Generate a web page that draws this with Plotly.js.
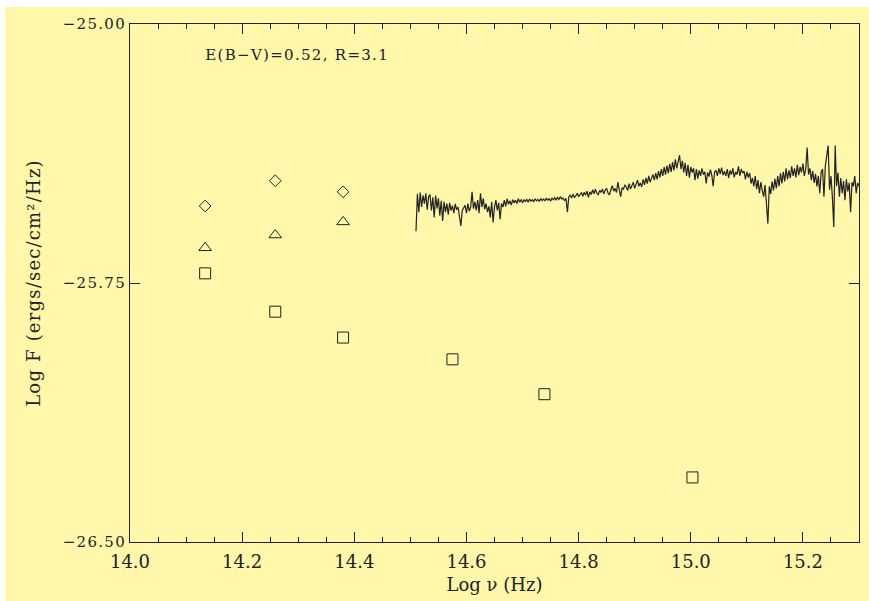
<!DOCTYPE html>
<html>
<head>
<meta charset="utf-8">
<script src="https://cdn.plot.ly/plotly-3.0.1.min.js"></script>
<style>
html,body{margin:0;padding:0;background:#ffffff;}
#chart{position:absolute;left:5px;top:7px;width:864px;height:594px;}
</style>
</head>
<body>
<div id="chart"></div>
<script>
// Photometric points (Log nu in Hz, Log F)
const diamondX = [14.134, 14.259, 14.380];
const diamondY = [-25.527, -25.454, -25.486];
const triangleX = [14.134, 14.259, 14.380];
const triangleY = [-25.648, -25.611, -25.573];
const squareX = [14.134, 14.259, 14.380, 14.575, 14.739, 15.003];
const squareY = [-25.722, -25.833, -25.908, -25.971, -26.072, -26.313];

// Spectrum (Log nu, Log F)
const specX = [
14.5100,14.5125,14.5150,14.5175,14.5200,14.5225,14.5250,14.5275,14.5300,14.5325,
14.5350,14.5375,14.5400,14.5425,14.5450,14.5475,14.5500,14.5525,14.5550,14.5575,
14.5600,14.5625,14.5650,14.5675,14.5700,14.5725,14.5750,14.5775,14.5800,14.5825,
14.5850,14.5875,14.5900,14.5925,14.5950,14.5975,14.6000,14.6025,14.6050,14.6075,
14.6100,14.6125,14.6150,14.6175,14.6200,14.6225,14.6250,14.6275,14.6300,14.6325,
14.6350,14.6375,14.6400,14.6425,14.6450,14.6475,14.6500,14.6525,14.6550,14.6575,
14.6600,14.6625,14.6650,14.6675,14.6700,14.6725,14.6750,14.6775,14.6800,14.6825,
14.6850,14.6875,14.6900,14.6925,14.6950,14.6975,14.7000,14.7025,14.7050,14.7075,
14.7100,14.7125,14.7150,14.7175,14.7200,14.7225,14.7250,14.7275,14.7300,14.7325,
14.7350,14.7375,14.7400,14.7425,14.7450,14.7475,14.7500,14.7525,14.7550,14.7575,
14.7600,14.7625,14.7650,14.7675,14.7700,14.7725,14.7750,14.7775,14.7800,14.7825,
14.7850,14.7875,14.7900,14.7925,14.7950,14.7975,14.8000,14.8025,14.8050,14.8075,
14.8100,14.8125,14.8150,14.8175,14.8200,14.8225,14.8250,14.8275,14.8300,14.8325,
14.8350,14.8375,14.8400,14.8425,14.8450,14.8475,14.8500,14.8525,14.8550,14.8575,
14.8600,14.8625,14.8650,14.8675,14.8700,14.8725,14.8750,14.8775,14.8800,14.8825,
14.8850,14.8875,14.8900,14.8925,14.8950,14.8975,14.9000,14.9025,14.9050,14.9075,
14.9100,14.9125,14.9150,14.9175,14.9200,14.9225,14.9250,14.9275,14.9300,14.9325,
14.9350,14.9375,14.9400,14.9425,14.9450,14.9475,14.9500,14.9525,14.9550,14.9575,
14.9600,14.9625,14.9650,14.9675,14.9700,14.9725,14.9750,14.9775,14.9800,14.9825,
14.9850,14.9875,14.9900,14.9925,14.9950,14.9975,15.0000,15.0025,15.0050,15.0075,
15.0100,15.0125,15.0150,15.0175,15.0200,15.0225,15.0250,15.0275,15.0300,15.0325,
15.0350,15.0375,15.0400,15.0425,15.0450,15.0475,15.0500,15.0525,15.0550,15.0575,
15.0600,15.0625,15.0650,15.0675,15.0700,15.0725,15.0750,15.0775,15.0800,15.0825,
15.0850,15.0875,15.0900,15.0925,15.0950,15.0975,15.1000,15.1025,15.1050,15.1075,
15.1100,15.1125,15.1150,15.1175,15.1200,15.1225,15.1250,15.1275,15.1300,15.1325,
15.1350,15.1375,15.1400,15.1425,15.1450,15.1475,15.1500,15.1525,15.1550,15.1575,
15.1600,15.1625,15.1650,15.1675,15.1700,15.1725,15.1750,15.1775,15.1800,15.1825,
15.1850,15.1875,15.1900,15.1925,15.1950,15.1975,15.2000,15.2025,15.2050,15.2075,
15.2100,15.2125,15.2150,15.2175,15.2200,15.2225,15.2250,15.2275,15.2300,15.2325,
15.2350,15.2375,15.2400,15.2425,15.2450,15.2475,15.2500,15.2525,15.2550,15.2575,
15.2600,15.2625,15.2650,15.2675,15.2700,15.2725,15.2750,15.2775,15.2800,15.2825,
15.2850,15.2875,15.2900,15.2925,15.2950,15.2975,15.3000
];
const specY = [
-25.600,-25.492,-25.545,-25.488,-25.530,-25.496,-25.520,-25.490,-25.538,-25.500,
-25.494,-25.540,-25.502,-25.560,-25.497,-25.534,-25.505,-25.555,-25.512,-25.570,
-25.515,-25.545,-25.520,-25.552,-25.518,-25.540,-25.526,-25.548,-25.521,-25.538,
-25.530,-25.562,-25.585,-25.540,-25.532,-25.525,-25.548,-25.520,-25.542,-25.530,
-25.486,-25.535,-25.515,-25.540,-25.510,-25.548,-25.490,-25.530,-25.505,-25.536,
-25.520,-25.545,-25.528,-25.560,-25.515,-25.575,-25.530,-25.510,-25.540,-25.518,
-25.565,-25.520,-25.530,-25.510,-25.528,-25.506,-25.522,-25.512,-25.524,-25.509,
-25.518,-25.510,-25.520,-25.506,-25.516,-25.508,-25.518,-25.509,-25.514,-25.508,
-25.516,-25.507,-25.513,-25.509,-25.515,-25.506,-25.512,-25.508,-25.514,-25.505,
-25.511,-25.507,-25.512,-25.505,-25.510,-25.506,-25.513,-25.504,-25.509,-25.503,
-25.510,-25.502,-25.508,-25.500,-25.507,-25.504,-25.512,-25.505,-25.545,-25.500,
-25.496,-25.504,-25.492,-25.502,-25.498,-25.490,-25.500,-25.494,-25.488,-25.499,
-25.487,-25.496,-25.484,-25.502,-25.486,-25.494,-25.480,-25.492,-25.478,-25.490,
-25.494,-25.482,-25.488,-25.478,-25.492,-25.481,-25.476,-25.490,-25.495,-25.480,
-25.468,-25.484,-25.476,-25.488,-25.458,-25.480,-25.500,-25.474,-25.478,-25.466,
-25.472,-25.482,-25.462,-25.478,-25.470,-25.458,-25.476,-25.465,-25.452,-25.470,
-25.460,-25.472,-25.450,-25.466,-25.446,-25.462,-25.440,-25.458,-25.448,-25.436,
-25.452,-25.432,-25.450,-25.426,-25.444,-25.420,-25.440,-25.414,-25.436,-25.410,
-25.432,-25.405,-25.428,-25.400,-25.424,-25.392,-25.418,-25.395,-25.380,-25.420,
-25.396,-25.430,-25.402,-25.440,-25.408,-25.445,-25.414,-25.430,-25.418,-25.452,
-25.420,-25.448,-25.424,-25.440,-25.418,-25.436,-25.428,-25.462,-25.430,-25.442,
-25.422,-25.438,-25.470,-25.428,-25.424,-25.440,-25.418,-25.434,-25.416,-25.438,
-25.426,-25.440,-25.420,-25.446,-25.424,-25.436,-25.418,-25.444,-25.428,-25.436,
-25.412,-25.440,-25.420,-25.432,-25.426,-25.450,-25.428,-25.444,-25.432,-25.462,
-25.446,-25.470,-25.440,-25.478,-25.452,-25.490,-25.458,-25.482,-25.500,-25.466,
-25.540,-25.578,-25.470,-25.492,-25.456,-25.482,-25.448,-25.476,-25.440,-25.470,
-25.432,-25.462,-25.428,-25.456,-25.418,-25.450,-25.424,-25.446,-25.412,-25.440,
-25.418,-25.444,-25.408,-25.438,-25.414,-25.430,-25.404,-25.440,-25.420,-25.358,
-25.436,-25.418,-25.452,-25.426,-25.460,-25.434,-25.470,-25.440,-25.490,-25.430,
-25.420,-25.500,-25.410,-25.380,-25.352,-25.480,-25.440,-25.500,-25.588,-25.352,
-25.470,-25.430,-25.500,-25.446,-25.490,-25.455,-25.510,-25.450,-25.485,-25.460,
-25.545,-25.458,-25.470,-25.440,-25.490,-25.460,-25.470
];

const yTicks = [-25.0, -25.75, -26.5];
const xTicks = [14.0, 14.2, 14.4, 14.6, 14.8, 15.0, 15.2];
const annotationText = 'E(B\u2212V)=0.52, R=3.1';
const xTitle = 'Log \u03BD (Hz)';
const yTitle = 'Log F (ergs/sec/cm\u00B2/Hz)';

const FONT = 'DejaVu Serif, Liberation Serif, serif';
const INK = '#222222';

const traces = [
  {x: specX, y: specY, mode: 'lines', type: 'scatter',
   line: {color: INK, width: 1.2}, hoverinfo: 'skip'},
  {x: diamondX, y: diamondY, mode: 'markers', type: 'scatter',
   marker: {symbol: 'diamond-open', size: 9, color: INK, line: {width: 1, color: INK}}},
  {x: triangleX, y: triangleY, mode: 'markers', type: 'scatter',
   marker: {symbol: 'triangle-up-open', size: 11, color: INK, line: {width: 1, color: INK}}},
  {x: squareX, y: squareY, mode: 'markers', type: 'scatter',
   marker: {symbol: 'square-open', size: 11, color: INK, line: {width: 1, color: INK}}}
];

const layout = {
  width: 864, height: 594,
  paper_bgcolor: '#FFF7AA',
  plot_bgcolor: '#FFF7AA',
  showlegend: false,
  margin: {l: 125, r: 10, t: 17, b: 59},
  font: {family: FONT, size: 15, color: INK},
  xaxis: {
    range: [14.0, 15.3],
    tickvals: xTicks,
    ticktext: xTicks.map(v => v.toFixed(1)),
    ticks: 'inside', ticklen: 10, tickwidth: 1, tickcolor: INK,
    minor: {dtick: 0.05, tick0: 14.0, ticks: 'inside', ticklen: 5, tickwidth: 1, tickcolor: INK, showgrid: false},
    showline: true, linecolor: INK, linewidth: 1, mirror: 'ticks',
    showgrid: false, zeroline: false,
    ticklabelstandoff: 3,
    tickfont: {family: FONT, size: 18, color: INK},
    title: {text: xTitle, font: {family: FONT, size: 18, color: INK}, standoff: 7}
  },
  yaxis: {
    range: [-26.5, -25.0],
    tickvals: yTicks,
    ticktext: yTicks.map(v => '\u2212' + Math.abs(v).toFixed(2)),
    ticks: 'inside', ticklen: 10, tickwidth: 1, tickcolor: INK,
    showline: true, linecolor: INK, linewidth: 1, mirror: 'ticks',
    showgrid: false, zeroline: false,
    tickfont: {family: FONT, size: 15, color: INK},
    title: {text: yTitle, font: {family: FONT, size: 18, color: INK}, standoff: 25}
  },
  annotations: [{
    text: annotationText, xref: 'x', yref: 'y', x: 14.152, y: -25.089,
    xanchor: 'left', yanchor: 'middle', showarrow: false,
    font: {family: FONT, size: 15, color: INK}
  }]
};

Plotly.newPlot('chart', traces, layout, {displayModeBar: false, staticPlot: true}).then(function () {
  document.querySelectorAll('#chart .ytick text').forEach(t => { t.style.letterSpacing = '1.3px'; });
  document.querySelectorAll('#chart .annotation-text').forEach(t => { t.style.letterSpacing = '1.3px'; });
  document.querySelectorAll('#chart .g-ytitle text').forEach(t => { t.style.letterSpacing = '1.2px'; });
});
</script>
</body>
</html>
